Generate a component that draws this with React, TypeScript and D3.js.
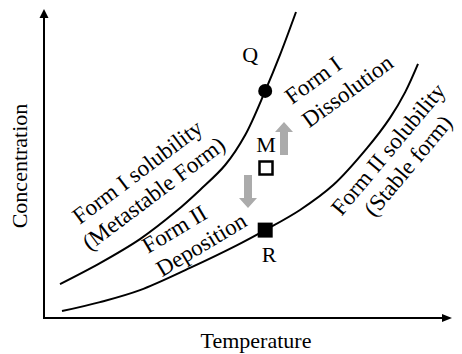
import React from "react";
import * as d3 from "d3";

// Solubility curves (temperature, concentration) in arbitrary units
const formITemp = [4, 14, 24, 32.8, 39, 45.3, 50.3, 55.3, 59, 63];
const formIConc = [11.3, 18.3, 26.3, 35.3, 42.7, 51, 61, 75.7, 87.7, 102];
const formIITemp = [4.5, 14, 24, 36.5, 48.3, 55.3, 64, 72.3, 80.8, 86.5, 90.3, 93.5];
const formIIConc = [2.3, 5.3, 9.3, 16.7, 24.3, 29.3, 36, 44.3, 56.7, 66.7, 75.3, 84.7];

// Marked states
const pointNames = ["Q", "M", "R"];
const pointTemp = [55.3, 55.5, 55.3];
const pointConc = [75.7, 50, 29.3];

// Transition arrows: temperature, start and end concentration
const arrowNames = ["dissolution", "deposition"];
const arrowTemp = [60, 51];
const arrowFrom = [54.3, 47.7];
const arrowTo = [65.3, 36.7];

const W = 462;
const H = 354;
const FONT = "'Liberation Serif', 'Times New Roman', serif";
const FS = 22;
const CAP_FS = 23;

const x = d3.scaleLinear().domain([0, 100]).range([44, 444]);
const y = d3.scaleLinear().domain([0, 100]).range([318, 18]);

const line = d3
  .line<[number, number]>()
  .x((d) => x(d[0]))
  .y((d) => y(d[1]))
  .curve(d3.curveCatmullRom.alpha(0.5));

const formI: [number, number][] = formITemp.map((t, i) => [t, formIConc[i]]);
const formII: [number, number][] = formIITemp.map((t, i) => [t, formIIConc[i]]);

type Block = {
  lines: string[];
  px: number;
  py: number;
  angle: number;
  anchor: "start" | "middle";
  gap: number;
};

// Rotated region / curve captions (baseline anchor of first line)
const blocks: Block[] = [
  { lines: ["Form I solubility", "(Metastable Form)"], px: 142, py: 178, angle: -37, anchor: "middle", gap: 27 },
  { lines: ["Form II", "Deposition"], px: 148, py: 254, angle: -31, anchor: "start", gap: 27 },
  { lines: ["Form I", "Dissolution"], px: 292, py: 105, angle: -36, anchor: "start", gap: 29 },
  { lines: ["Form II solubility", "(Stable form)"], px: 394, py: 154, angle: -50, anchor: "middle", gap: 26 },
];

function BlockArrow({ t, from, to }: { t: number; from: number; to: number }) {
  const cx = x(t);
  const y0 = y(from);
  const y1 = y(to);
  const dir = y1 < y0 ? -1 : 1;
  const head = 10;
  const shaftW = 8;
  const headW = 18;
  const yb = y1 - dir * head;
  const pts: [number, number][] = [
    [cx - shaftW / 2, y0],
    [cx - shaftW / 2, yb],
    [cx - headW / 2, yb],
    [cx, y1],
    [cx + headW / 2, yb],
    [cx + shaftW / 2, yb],
    [cx + shaftW / 2, y0],
  ];
  return <path d={"M" + pts.map((p) => p.join(",")).join("L") + "Z"} fill="#ababab" />;
}

export default function App() {
  const q = { x: x(pointTemp[0]), y: y(pointConc[0]) };
  const m = { x: x(pointTemp[1]), y: y(pointConc[1]) };
  const r = { x: x(pointTemp[2]), y: y(pointConc[2]) };
  const x0 = x(0);
  const y0 = y(0);
  return (
    <svg width={W} height={H} style={{ position: "absolute", left: 0, top: 0 }} fontFamily={FONT}>
      <rect width={W} height={H} fill="#fff" />
      {/* axes */}
      <line x1={x0} y1={y0} x2={x0} y2={16} stroke="#000" strokeWidth={2} />
      <path d={`M${x0},9L${x0 - 4.5},18L${x0 + 4.5},18Z`} fill="#000" />
      <line x1={x0 - 1} y1={y0} x2={443} y2={y0} stroke="#000" strokeWidth={2} />
      <path d={`M452,${y0}L442,${y0 - 4}L442,${y0 + 4}Z`} fill="#000" />
      <text x={256} y={348} textAnchor="middle" fontSize={FS}>Temperature</text>
      <text transform={`translate(27,166) rotate(-90)`} textAnchor="middle" fontSize={FS}>Concentration</text>

      {/* solubility curves */}
      <path d={line(formI) ?? ""} fill="none" stroke="#000" strokeWidth={2} />
      <path d={line(formII) ?? ""} fill="none" stroke="#000" strokeWidth={2} />

      {/* transition arrows */}
      {arrowNames.map((n, i) => (
        <BlockArrow key={n} t={arrowTemp[i]} from={arrowFrom[i]} to={arrowTo[i]} />
      ))}

      {/* state points */}
      <circle cx={q.x} cy={q.y} r={7} fill="#000" />
      <rect x={m.x - 6.5} y={m.y - 6.5} width={13} height={13} fill="#fff" stroke="#000" strokeWidth={2.5} />
      <rect x={r.x - 7.5} y={r.y - 7.5} width={15} height={15} fill="#000" />
      <text x={q.x - 15} y={q.y - 29} textAnchor="middle" fontSize={FS}>{pointNames[0]}</text>
      <text x={m.x} y={m.y - 16} textAnchor="middle" fontSize={FS}>{pointNames[1]}</text>
      <text x={r.x + 4} y={r.y + 32} textAnchor="middle" fontSize={FS}>{pointNames[2]}</text>

      {/* captions */}
      {blocks.map((b, i) => (
        <g key={i} transform={`translate(${b.px},${b.py}) rotate(${b.angle})`}>
          {b.lines.map((s, j) => (
            <text key={j} x={0} y={j * b.gap} textAnchor={b.anchor} fontSize={CAP_FS}>{s}</text>
          ))}
        </g>
      ))}
    </svg>
  );
}
